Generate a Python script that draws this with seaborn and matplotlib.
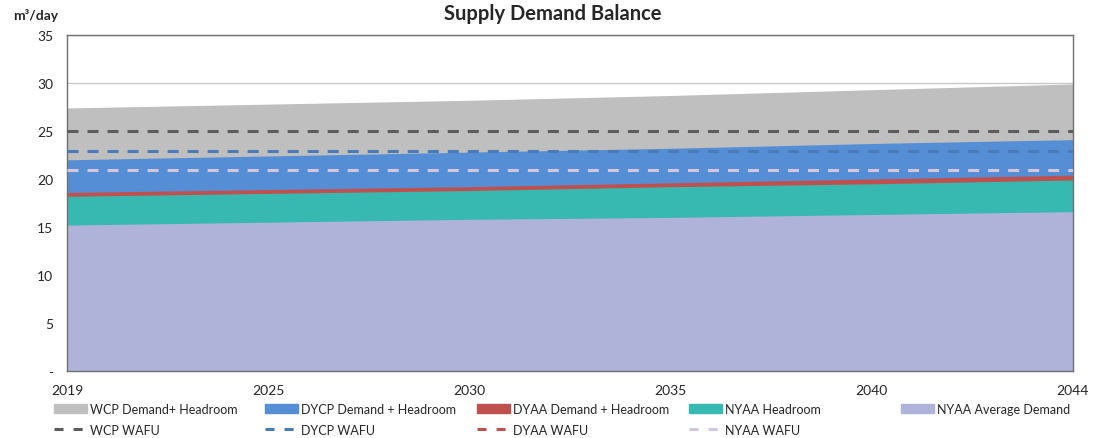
import numpy as np
import pandas as pd
import seaborn as sns
import matplotlib.pyplot as plt
from matplotlib.patches import Patch
from matplotlib.lines import Line2D

# data (m3/day)
years = ["2019", "2025", "2030", "2035", "2040", "2044"]
wcp_demand_headroom = [27.4, 27.8, 28.2, 28.7, 29.3, 29.9]
dycp_demand_headroom = [22.0, 22.4, 22.8, 23.2, 23.7, 24.1]
dyaa_demand_headroom = [18.6, 18.9, 19.2, 19.6, 20.0, 20.4]
nyaa_headroom = [18.2, 18.5, 18.8, 19.2, 19.5, 19.9]
nyaa_average_demand = [15.2, 15.5, 15.8, 16.0, 16.3, 16.6]
wcp_wafu = [25.0] * 6
dycp_wafu = [22.9] * 6
dyaa_wafu = [18.0] * 6
nyaa_wafu = [20.9] * 6

sns.set_theme(style="white")
plt.rcParams["font.family"] = ["Lato", "DejaVu Sans"]

fig = plt.figure(figsize=(11.06, 4.39), dpi=100)
ax = fig.add_axes([0.0606, 0.1526, 0.9094, 0.7654])

x = np.arange(len(years))
df = pd.DataFrame({"x": x, "year": years})

areas = [
    ("WCP Demand+ Headroom", wcp_demand_headroom, "#bfbfbf"),
    ("DYCP Demand + Headroom", dycp_demand_headroom, "#558ed5"),
    ("DYAA Demand + Headroom", dyaa_demand_headroom, "#c0504d"),
    ("NYAA Headroom", nyaa_headroom, "#37b8b0"),
    ("NYAA Average Demand", nyaa_average_demand, "#b0b3d9"),
]
lines = [
    ("WCP WAFU", wcp_wafu, "#5c5c5c"),
    ("DYCP WAFU", dycp_wafu, "#4a7ab8"),
    ("DYAA WAFU", dyaa_wafu, "#c0504d"),
    ("NYAA WAFU", nyaa_wafu, "#d2c6e0"),
]

for i, (name, vals, col) in enumerate(areas):
    ax.fill_between(x, 0, vals, color=col, lw=0, zorder=2 + i * 0.1)

# DYAA WAFU sits behind the areas in the original
line_z = {"WCP WAFU": 3, "DYCP WAFU": 3, "DYAA WAFU": 1, "NYAA WAFU": 3}
for name, vals, col in lines:
    df[name] = vals
    sns.lineplot(data=df, x="x", y=name, ax=ax, color=col, lw=2.2,
                 zorder=line_z[name])
    ax.get_lines()[-1].set_dashes([3.6, 2.95])

ax.set_xlim(0, 5)
ax.set_ylim(0, 35)
ax.set_yticks(range(0, 36, 5))
ax.set_yticklabels(["-"] + [str(v) for v in range(5, 36, 5)], fontsize=10)
ax.set_xticks(x)
ax.set_xticklabels(years, fontsize=10)
ax.tick_params(axis="x", pad=9, length=0)
ax.tick_params(axis="y", pad=10, length=0)
ax.set_xlabel("")
ax.set_ylabel("")
ax.grid(axis="y", color="#c8c8c8", lw=1, zorder=0)
ax.set_axisbelow(True)
for s in ax.spines.values():
    s.set_color("#707070")
    s.set_linewidth(1)

fig.text(0.5, 0.968, "Supply Demand Balance", ha="center", va="center",
         fontsize=14.5, fontweight="bold")
fig.text(0.012, 0.965, "m³/day", ha="left", va="center", fontsize=10,
         fontweight="bold")

# legend: five columns at fixed positions
cols = [
    [areas[0], lines[0]],
    [areas[1], lines[1]],
    [areas[2], lines[2]],
    [areas[3], lines[3]],
    [areas[4]],
]
col_x = [54, 265, 477, 689, 901]
for cx, entries in zip(col_x, cols):
    handles = [Patch(color=entries[0][2], label=entries[0][0])]
    if len(entries) > 1:
        handles.append(Line2D([], [], color=entries[1][2], lw=2.2,
                              dashes=[2.95, 3.3], label=entries[1][0]))
    fig.legend(handles=handles, loc="upper left",
               bbox_to_anchor=(cx / 1106, 1 - 404 / 439),
               frameon=False, fontsize=9, handlelength=2.65,
               handleheight=0.64, handletextpad=0.25, labelspacing=0.7,
               borderaxespad=0, borderpad=0)

fig.savefig("out.png", dpi=100)
